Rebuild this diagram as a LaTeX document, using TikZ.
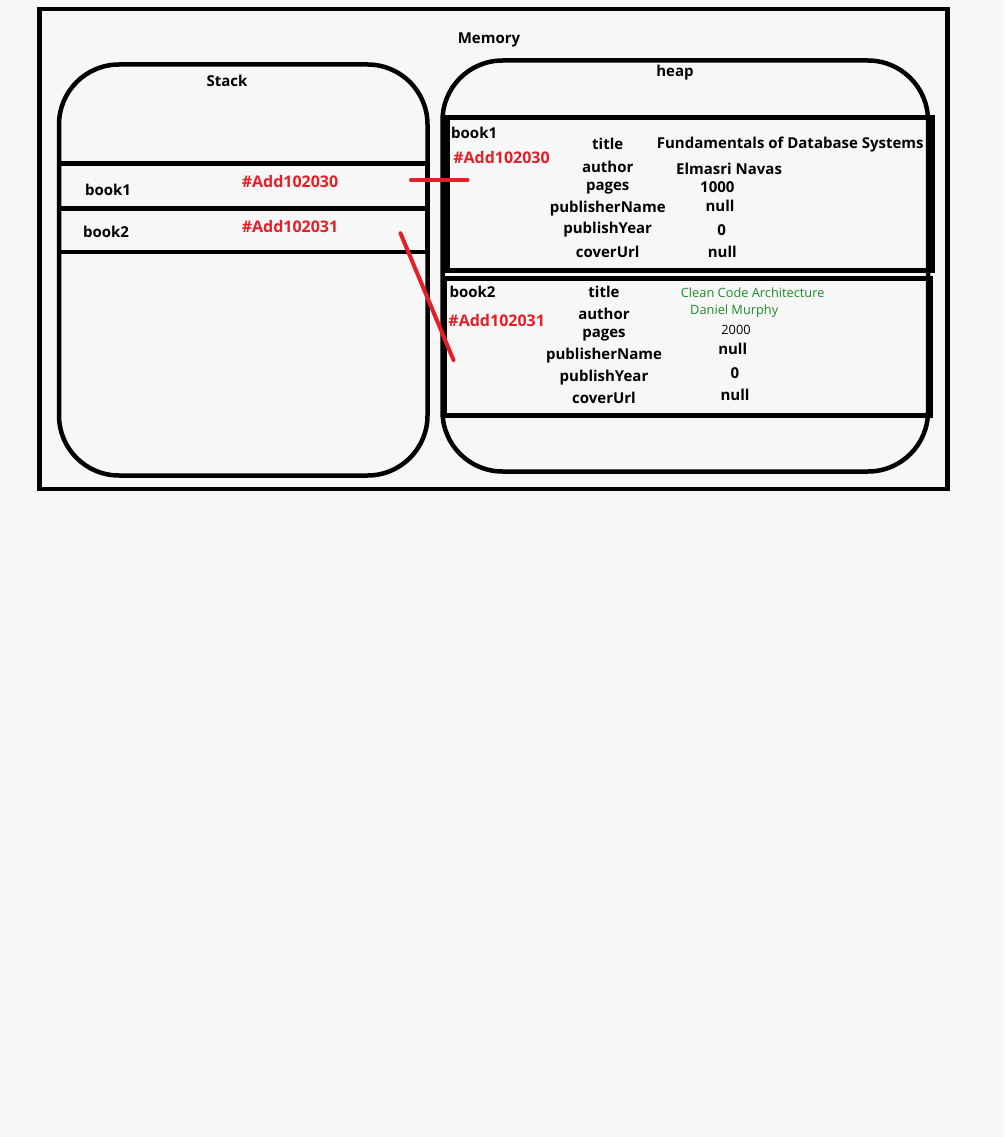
\documentclass[tikz,border=0pt]{standalone}
\usepackage{fontspec}
\setmainfont{Open Sans}
\definecolor{paper}{HTML}{F7F7F7}
\definecolor{addrred}{RGB}{230,30,40}
\definecolor{valgreen}{RGB}{30,140,40}
\begin{document}
\begin{tikzpicture}[x=1pt,y=-1pt,
  box/.style={draw=black,line width=4.5pt},
  heavybox/.style={draw=black,line width=5pt},
  txt/.style={inner sep=0pt,font=\bfseries\fontsize{15}{17}\selectfont},
  addr/.style={inner sep=0pt,font=\bfseries\fontsize{16}{18}\selectfont,text=addrred},
  plain/.style={inner sep=0pt,font=\fontsize{12.8}{15}\selectfont},
  greenval/.style={plain,text=valgreen},
  link/.style={draw=addrred,line width=4pt,line cap=round}]
\fill[paper] (0,0) rectangle (1004,1137);
\useasboundingbox (0,0) rectangle (1004,1137);

% memory frame
\draw[box] (39.5,9) rectangle (947.5,489);
\node[txt] (memory) at (489,40) {Memory};

% stack region with its two reference slots
\draw[box, rounded corners=60pt] (59,64.5) rectangle (427.5,475.5);
\node[txt] (stack) at (227,80.5) {Stack};
\draw[box] (59,163.5) rectangle (427,252);
\draw[box] (59,208.5) -- (427,208.5);
\node[txt] (sbook1) at (108,190) {book1};
\node[addr] (saddr1) at (290,181.7) {\#Add102030};
\node[txt] (sbook2) at (106,231.7) {book2};
\node[addr] (saddr2) at (290,226.7) {\#Add102031};

% heap region with the two objects
\draw[box, rounded corners=60pt] (442.5,60.5) rectangle (928,471.5);
\node[txt] (heap) at (675,72.5) {heap};
\draw[heavybox] (447,117.5) rectangle (932,270.5);
\draw[heavybox] (444,278.5) rectangle (930,415);

% object book1
\node[txt, anchor=west] (hbook1) at (451,133.3) {book1};
\node[addr] (haddr1) at (501.5,157.3) {\#Add102030};
\node[txt] (t1) at (607.7,144.3) {title};
\node[txt] (a1) at (607.7,166.7) {author};
\node[txt] (pg1) at (607.7,187.7) {pages};
\node[txt] (pn1) at (607.7,208.3) {publisherName};
\node[txt] (py1) at (607.7,230) {publishYear};
\node[txt] (cu1) at (607.7,251.7) {coverUrl};
\node[txt, anchor=west] (vt1) at (656.7,144.3) {Fundamentals of Database Systems};
\node[txt, anchor=west] (va1) at (676,169) {Elmasri Navas};
\node[txt] (vpg1) at (717.3,187.3) {1000};
\node[txt] (vpn1) at (720,206) {null};
\node[txt] (vpy1) at (721.7,230) {0};
\node[txt] (vcu1) at (722.3,251.7) {null};

% object book2
\node[txt, anchor=west] (hbook2) at (449.3,291.7) {book2};
\node[addr] (haddr2) at (496.7,320.7) {\#Add102031};
\node[txt] (t2) at (604,292.3) {title};
\node[txt] (a2) at (604,314) {author};
\node[txt] (pg2) at (604,335) {pages};
\node[txt] (pn2) at (604,356) {publisherName};
\node[txt] (py2) at (604,377.3) {publishYear};
\node[txt] (cu2) at (604,398.3) {coverUrl};
\node[greenval, anchor=west] (vt2) at (680.7,292.3) {Clean Code Architecture};
\node[greenval, anchor=west] (va2) at (690,310.7) {Daniel Murphy};
\node[plain] (vpg2) at (736,330) {2000};
\node[txt] (vpn2) at (732.7,349) {null};
\node[txt] (vpy2) at (735,372.7) {0};
\node[txt] (vcu2) at (735,395) {null};

% references from stack slots to heap objects
\coordinate (r1s) at (411,180.3);
\coordinate (r1e) at (467.5,180.3);
\coordinate (r2s) at (400.5,233.3);
\coordinate (r2e) at (453.5,360);
\draw[link] (r1s) -- (r1e);
\draw[link] (r2s) -- (r2e);
\end{tikzpicture}
\end{document}
